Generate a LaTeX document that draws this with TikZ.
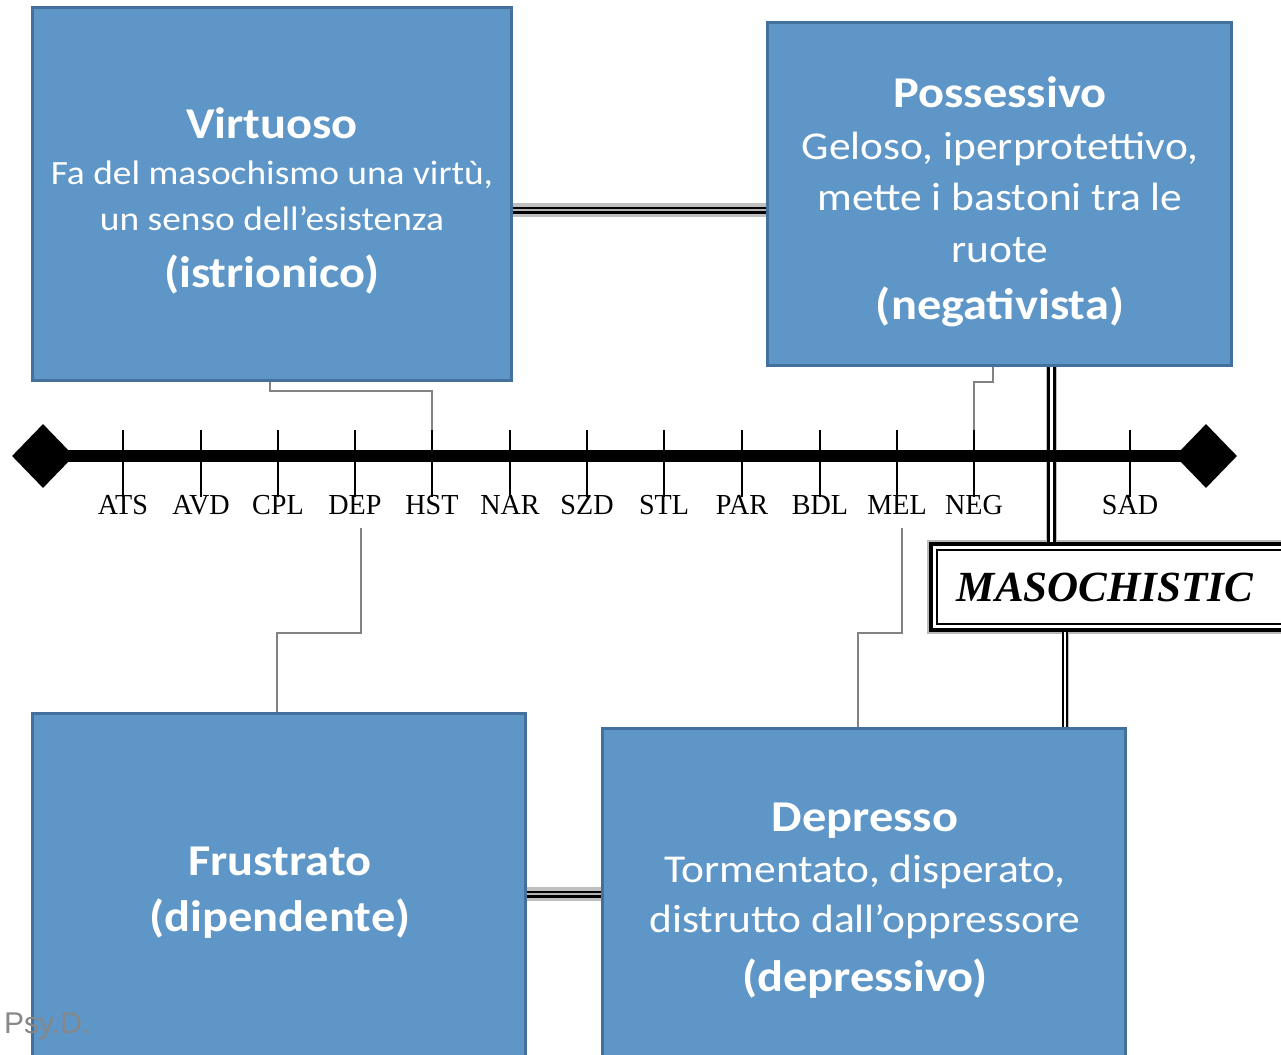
\documentclass[tikz,border=0pt]{standalone}
\usepackage{fontspec}
\setmainfont{Carlito}[FakeStretch=1.1]
\newfontfamily\serifx{Liberation Serif}
\newfontfamily\sansx{Liberation Sans}
\usetikzlibrary{shapes.geometric}
\definecolor{boxfill}{RGB}{95,150,200}
\definecolor{boxline}{RGB}{68,112,158}
\definecolor{conn}{RGB}{130,130,130}
\definecolor{psy}{RGB}{135,135,135}
\begin{document}
\begin{tikzpicture}[x=1pt,y=-1pt,
  box/.style={draw=boxline, fill=boxfill, line width=3pt, inner sep=0pt},
  ttl/.style={text=white, font=\fontsize{44}{50}\selectfont\bfseries, anchor=base, inner sep=0pt},
  bdy/.style={text=white, font=\fontsize{39.5}{44}\selectfont, anchor=base, inner sep=0pt},
  bdys/.style={text=white, font=\fontsize{34}{40}\selectfont, anchor=base, inner sep=0pt},
  tickmark/.style={line width=1.8pt},
  axlab/.style={font=\serifx\fontsize{29}{30}\selectfont, anchor=base, inner sep=0pt},
  thinconn/.style={draw=conn, line width=1.8pt},
  dblh/.style={draw=black, line width=2.5pt, double=gray!60, double distance=2pt, preaction={draw=gray!50, line width=14pt}},
  dblv/.style={draw=black, line width=3pt, double=white, double distance=3pt, preaction={draw=gray!50, line width=11pt}},
  dblv2/.style={draw=black, line width=1.6pt, double=white, double distance=2pt, preaction={draw=gray!50, line width=7pt}},
  ends/.style={diamond, fill=black, minimum width=62pt, minimum height=64pt, inner sep=0pt}
]
\useasboundingbox (0,0) rectangle (1281,1054);
\clip (0,0) rectangle (1281,1054);

% boxes
\node[box, minimum width=479pt, minimum height=373pt] (virt) at (272,194) {};
\node[box, minimum width=464pt, minimum height=343pt] (poss) at (999.5,194) {};
\node[box, minimum width=493pt, minimum height=349pt] (frus) at (279,888) {};
\node[box, minimum width=523pt, minimum height=335pt] (depr) at (864,896) {};

% masochistic box
\node[draw=black, line width=4pt, fill=white, minimum width=362pt, minimum height=86pt, inner sep=0pt,
      preaction={draw=gray!55, line width=8pt}] (maso) at (1112,587) {};
\draw[line width=1.3pt] ([shift={(8,8)}]maso.north west) rectangle ([shift={(-8,-8)}]maso.south east);
\node[font=\serifx\bfseries\itshape\fontsize{43}{45}\selectfont, anchor=base, inner sep=0pt] (masoT) at (1105,601) {MASOCHISTIC};

% double connectors
\draw[dblh] (virt.east |- 0,210) -- (poss.west |- 0,210);
\draw[dblh] (frus.east |- 0,894) -- (depr.west |- 0,894);
\draw[dblv] (poss.south -| 1051,0) -- (maso.north -| 1051,0);
\draw[dblv2] (maso.south -| 1065,0) -- (depr.north -| 1065,0);

% axis
\node[ends] (dl) at (43,456) {};
\node[ends] (dr) at (1206,456) {};
\draw[line width=12pt] (dl.center) -- (dr.center);
\foreach \x/\n in {123/ATS,201/AVD,278/CPL,355/DEP,432/HST,510/NAR,587/SZD,664/STL,742/PAR,820/BDL,897/MEL,974/NEG,1130/SAD} {
  \draw[tickmark] (\x,430) coordinate (t\n) -- (\x,497);
  \node[axlab] (l\n) at (\x,514.5) {\scalebox{0.97}[1]{\n}};
}

% thin connectors
\coordinate (dDEP) at (361,528);
\coordinate (dMEL) at (902,528);
\draw[thinconn] (virt.south -| 270,0) |- (432,391) -- (tHST);
\draw[thinconn] (poss.south -| 993,0) |- (974,382) -- (tNEG);
\draw[thinconn] (dDEP) |- (277,633) -- (frus.north -| 277,0);
\draw[thinconn] (dMEL) |- (858,633) -- (depr.north -| 858,0);

% texts
\node[ttl] (v1) at (272,138.5) {Virtuoso};
\node[bdys] (v2) at (272,184.5) {Fa del masochismo una virtù,};
\node[bdys] (v3) at (272,230.5) {un senso dell’esistenza};
\node[ttl] (v4) at (272,287) {(istrionico)};

\node[ttl] (p1) at (1000,107.5) {Possessivo};
\node[bdy] (p2) at (1000,159) {Geloso, iperprotettivo,};
\node[bdy] (p3) at (1000,210) {mette i bastoni tra le};
\node[bdy] (p4) at (1000,262.5) {ruote};
\node[ttl] (p5) at (1000,319) {(negativista)};

\node[ttl] (f1) at (280,875) {Frustrato};
\node[ttl] (f2) at (280,931) {(dipendente)};

\node[ttl] (d1) at (865,831) {Depresso};
\node[bdy] (d2) at (865,882) {Tormentato, disperato,};
\node[bdy] (d3) at (865,932.5) {distrutto dall’oppressore};
\node[ttl] (d4) at (865,991) {(depressivo)};

\node[font=\sansx\fontsize{30}{32}\selectfont, text=psy, anchor=base west, inner sep=0pt] (psyd) at (4,1033) {Psy.D.};
\end{tikzpicture}
\end{document}
